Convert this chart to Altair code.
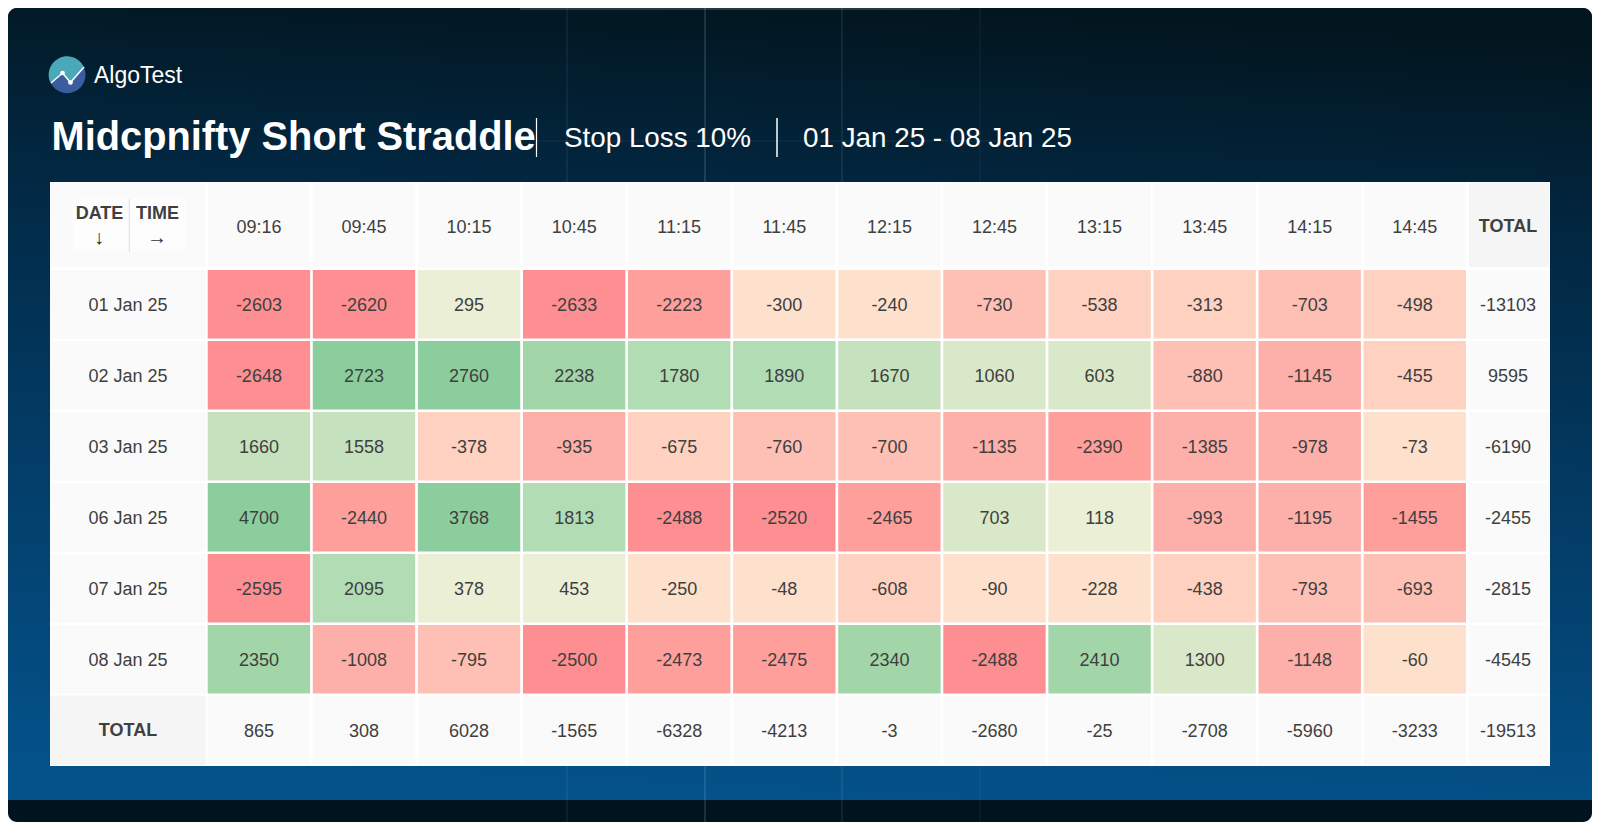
import altair as alt
import pandas as pd

times = ["09:16","09:45","10:15","10:45","11:15","11:45","12:15","12:45","13:15","13:45","14:15","14:45"]
dates = ["01 Jan 25","02 Jan 25","03 Jan 25","06 Jan 25","07 Jan 25","08 Jan 25"]
row_01 = [-2603,-2620,295,-2633,-2223,-300,-240,-730,-538,-313,-703,-498]
row_02 = [-2648,2723,2760,2238,1780,1890,1670,1060,603,-880,-1145,-455]
row_03 = [1660,1558,-378,-935,-675,-760,-700,-1135,-2390,-1385,-978,-73]
row_06 = [4700,-2440,3768,1813,-2488,-2520,-2465,703,118,-993,-1195,-1455]
row_07 = [-2595,2095,378,453,-250,-48,-608,-90,-228,-438,-793,-693]
row_08 = [2350,-1008,-795,-2500,-2473,-2475,2340,-2488,2410,1300,-1148,-60]
rows = [row_01,row_02,row_03,row_06,row_07,row_08]
row_totals = [-13103,9595,-6190,-2455,-2815,-4545]
col_totals = [865,308,6028,-1565,-6328,-4213,-3,-2680,-25,-2708,-5960,-3233]
grand_total = -19513

title_main = "Midcpnifty Short Straddle"
title_stop = "Stop Loss 10%"
title_range = "01 Jan 25 - 08 Jan 25"
brand = "AlgoTest"

OX, OY = 8, 8
FONT = "Liberation Sans"
INK = "#3f3f3f"
def px(v): return v - OX
def py(v): return v - OY

cells = pd.DataFrame([{"date": d, "time": t, "value": v, "label": str(v)}
                      for d, r in zip(dates, rows) for t, v in zip(times, r)])
ydomain = dates + ["TOTAL"]
xs = alt.Scale(domain=times, range=[px(207.7), px(1466)], paddingInner=0.0257, paddingOuter=0)
ys = alt.Scale(domain=ydomain, range=[py(270), py(764.5)], paddingInner=0.035, paddingOuter=0)
X = alt.X("time:N", scale=xs, axis=None, sort=times)
Y = alt.Y("date:N", scale=ys, axis=None, sort=ydomain)

blank = alt.Data(values=[{}])
def box(x0, x1, y0, y1, color, **kw):
    return alt.Chart(blank).mark_rect(color=color, **kw).encode(
        x=alt.value(px(x0)), x2=alt.value(px(x1)), y=alt.value(py(y0)), y2=alt.value(py(y1)))
def seg(x0, y0, x1, y1, color, width=1.0, opacity=1.0):
    return alt.Chart(blank).mark_rule(color=color, strokeWidth=width, opacity=opacity).encode(
        x=alt.value(px(x0)), x2=alt.value(px(x1)), y=alt.value(py(y0)), y2=alt.value(py(y1)))
def label(s, x, y, size, color=INK, bold=False, align="center"):
    return alt.Chart(blank).mark_text(font=FONT, fontSize=size, color=color, align=align, baseline="middle",
                                      fontWeight="bold" if bold else "normal").encode(
        x=alt.value(px(x)), y=alt.value(py(y)), text=alt.value(s))

layers = []
# card backgrounds
layers.append(box(8, 1592, 8, 822, "#01131f", cornerRadius=9))
layers.append(box(8, 1592, 8, 800, alt.LinearGradient(
    gradient="linear",
    stops=[alt.GradientStop(color="#02161f", offset=0),
           alt.GradientStop(color="#02263f", offset=0.22),
           alt.GradientStop(color="#033c66", offset=0.6),
           alt.GradientStop(color="#04528a", offset=1)],
    x1=0.55, y1=0, x2=0.45, y2=1), cornerRadiusTopLeft=9, cornerRadiusTopRight=9))
# faint backdrop grid
for gx, op in [(567, 0.12), (705, 0.28), (842, 0.16), (980, 0.08)]:
    layers.append(seg(gx, 8, gx, 182, "#9fc4e0", 1.2, op))
    layers.append(seg(gx, 766, gx, 822, "#9fc4e0", 1.2, op))
layers.append(seg(536, 141, 1000, 141, "#9fc4e0", 1.2, 0.10))
layers.append(seg(520, 9, 960, 9, "#9fb4c4", 1.5, 0.3))

# logo
logo_top = "M-0.97,0.38 L-0.36,-0.17 L0.1,0.38 L0.87,-0.52 A1,1 0 0 0 -0.97,0.38 Z"
logo_bot = "M-0.97,0.38 L-0.36,-0.17 L0.1,0.38 L0.87,-0.52 A1,1 0 0 1 -0.97,0.38 Z"
for shape, col in [(logo_bot, "#3b5c9f"), (logo_top, "#4aa9b9")]:
    layers.append(alt.Chart(blank).mark_point(shape=shape, filled=True, color=col, opacity=1, size=36*36, strokeWidth=0)
                  .encode(x=alt.value(px(68)), y=alt.value(py(76))))
pts = [(51, 83), (62.5, 73), (70.5, 82.5), (84, 67)]
for a, b in zip(pts[:-1], pts[1:]):
    layers.append(seg(a[0], a[1], b[0], b[1], "white", 1.6))
for p in pts[1:3]:
    layers.append(alt.Chart(blank).mark_circle(color="white", opacity=1, size=22)
                  .encode(x=alt.value(px(p[0])), y=alt.value(py(p[1]))))
layers.append(label(brand, 94, 76, 23, "white", align="left"))

# title line
layers.append(label(title_main, 51.5, 138, 39.8, "white", True, "left"))
layers.append(seg(536.5, 118, 536.5, 157, "white", 1.2))
layers.append(label(title_stop, 564, 138.5, 27.8, "white", align="left"))
layers.append(seg(777, 118, 777, 157, "white", 1.5))
layers.append(label(title_range, 803, 138.5, 27.8, "white", align="left"))

# table base
layers.append(box(50, 1550, 182, 766, "white"))
layers.append(box(50, 205.7, 182.5, 267, "#fafafa"))
layers.append(box(1469, 1549, 182.5, 267, "#f5f5f5"))
layers.append(box(73, 185, 199, 251, "#fdfdfd"))

tb = pd.DataFrame({"time": times})
# header and total-row cells
layers.append(alt.Chart(tb).mark_rect(color="#fafafa").encode(x=X, y=alt.value(py(182.5)), y2=alt.value(py(267))))
rb = pd.DataFrame({"date": dates + ["TOTAL"], "total": [str(v) for v in row_totals + [grand_total]]})
layers.append(alt.Chart(rb).mark_rect(color="#fafafa").encode(y=Y, x=alt.value(px(50)), x2=alt.value(px(205.7))))
layers.append(alt.Chart(rb).mark_rect(color="#fafafa").encode(y=Y, x=alt.value(px(1469)), x2=alt.value(px(1549))))
ctot = pd.DataFrame({"time": times, "date": "TOTAL", "total": [str(v) for v in col_totals]})
layers.append(alt.Chart(ctot).mark_rect(color="#fafafa").encode(x=X, y=Y))
layers.append(box(50, 205.7, 695.5, 765, "#f5f5f5"))

# heat cells
heat = alt.Scale(type="threshold",
    domain=[-2480, -1400, -900, -685, -305, 0, 500, 1400, 1700, 2200, 2600],
    range=["#fd8f92", "#fe9f9c", "#fdb0a9", "#fec0b5", "#fed1c0", "#fee1cc",
           "#ebefd6", "#d9e8c8", "#c5e1bd", "#b2dcb3", "#a2d5a8", "#8ccd9d"])
layers.append(alt.Chart(cells).mark_rect().encode(x=X, y=Y, color=alt.Color("value:Q", scale=heat, legend=None)))

base_text = dict(font=FONT, fontSize=18, color=INK, align="center", baseline="middle", dy=2)
layers.append(alt.Chart(cells).mark_text(**base_text).encode(x=X, y=Y, text="label:N"))
layers.append(alt.Chart(tb).mark_text(**base_text).encode(x=X, y=alt.value(py(226)), text="time:N"))
rd = pd.DataFrame({"date": dates})
layers.append(alt.Chart(rd).mark_text(**base_text).encode(y=Y, x=alt.value(px(128)), text="date:N"))
layers.append(alt.Chart(rb).mark_text(**base_text).encode(y=Y, x=alt.value(px(1508)), text="total:N"))
layers.append(alt.Chart(ctot).mark_text(**base_text).encode(x=X, y=Y, text="total:N"))

# header labels
layers.append(label("DATE", 99.5, 213.5, 18, bold=True))
layers.append(label("TIME", 157.5, 213.5, 18, bold=True))
layers.append(label("↓", 99, 238, 20, "#333333"))
layers.append(label("→", 157, 238, 20, "#333333"))
layers.append(seg(129.3, 199, 129.3, 252, "#dddddd", 1))
layers.append(label("TOTAL", 1508, 227, 18, bold=True))
layers.append(label("TOTAL", 128, 731, 18, bold=True))

chart = alt.layer(*layers).properties(
    width=1584, height=814, padding=0, autosize="none", background="white"
).configure_view(stroke=None)

chart.save("out.html", embed_options={"renderer": "svg", "actions": False})
